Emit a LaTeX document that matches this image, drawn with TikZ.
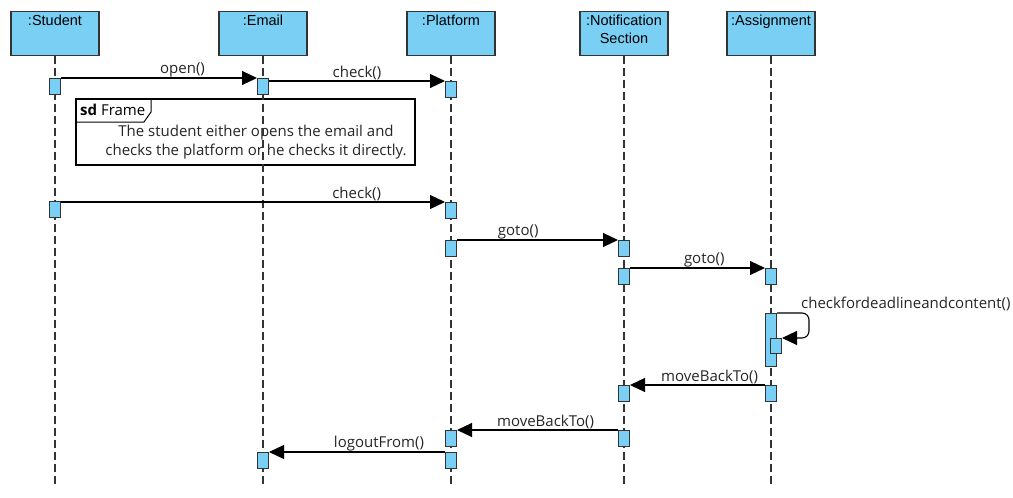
\documentclass[tikz,border=0pt]{standalone}
\usepackage{fontspec}
\setmainfont{Open Sans}
\newfontfamily\headfont{Liberation Sans}
\usepackage{tikz}
\usetikzlibrary{positioning, arrows.meta, calc}
\definecolor{umlblue}{RGB}{122,207,245}
\definecolor{umlline}{RGB}{51,51,51}
\tikzset{
  head/.style={draw=umlline, line width=1.4pt, fill=umlblue, minimum width=88pt, minimum height=44pt, anchor=north, inner sep=0pt},
  headlbl/.style={font=\headfont\fontsize{14.5}{18}\selectfont, align=center, anchor=north, inner sep=3.5pt},
  act/.style={draw=umlline, line width=1pt, fill=umlblue, minimum width=11pt, minimum height=16pt, anchor=north, inner sep=0pt},
  life/.style={umlline, line width=1.2pt, dash pattern=on 8pt off 4pt},
  msg/.style={line width=1.1pt, -{Triangle[length=15pt,width=14pt]}},
  lbl/.style={font=\fontsize{15}{17}\selectfont, above, inner sep=0.5pt, text=black!85},
}

\begin{document}
\begin{tikzpicture}[x=1pt, y=-1pt]
    \useasboundingbox[fill=white] (0,0) rectangle (1013,498);

    % Lifeline heads
    \node[head, label={[headlbl]north:{:Student}}] (stu) at (55,11) {};
    \node[head, label={[headlbl]north:{:Email}}] (eml) at (263,11) {};
    \node[head, label={[headlbl]north:{:Platform}}] (plt) at (451,11) {};
    \node[head, label={[headlbl]north:{:Notification\\Section}}] (ntf) at (624,11) {};
    \node[head, label={[headlbl]north:{:Assignment}}] (asg) at (771,11) {};

    % Frame
    \draw[line width=1.4pt] (76,99) rectangle (415,165);
    \draw[line width=1pt] (76,122) -- (144,122) -- (151,112) -- (151,99);
    \node[font=\fontsize{15}{17}\selectfont, anchor=west, inner sep=0pt] (frmtag) at (80,110) {\textbf{sd} Frame};
    \node[font=\fontsize{15}{19}\selectfont, align=center, text=black!85] (frmtxt) at (256,142)
        {The student either opens the email and\\checks the platform or he checks it directly.};

    % Lifelines
    \coordinate (bot) at (0,487);
    \foreach \h in {stu,eml,plt,ntf,asg}
        \draw[life] (\h.south) -- (\h.south |- bot);

    % Activations
    \node[act] (stu1) at (55,78) {};
    \node[act] (eml1) at (263,78) {};
    \node[act] (plt1) at (451,81) {};
    \node[act] (stu2) at (55,201) {};
    \node[act] (plt2) at (451,202) {};
    \node[act] (plt3) at (451,240) {};
    \node[act] (ntf1) at (624,240) {};
    \node[act] (ntf2) at (624,268) {};
    \node[act] (asg1) at (771,268) {};
    \node[act, minimum height=53pt] (asg2) at (771,313) {};
    \node[act, minimum height=15pt] (asg3) at (776,338) {};
    \node[act] (asg4) at (771,385) {};
    \node[act] (ntf3) at (624,385) {};
    \node[act] (ntf4) at (624,430) {};
    \node[act] (plt4) at (451,430) {};
    \node[act] (plt5) at (451,452) {};
    \node[act] (eml2) at (263,452) {};

    % Messages
    \draw[msg] (stu1.east |- eml1.north) -- (eml1.north west) node[lbl, pos=0.62] {open()};
    \draw[msg] (eml1.east |- plt1.north) -- (plt1.north west) node[lbl, pos=0.5] {check()};
    \draw[msg] (stu2.east |- plt2.north) -- (plt2.north west) node[lbl, pos=0.77] {check()};
    \draw[msg] (plt3.east |- ntf1.north) -- (ntf1.north west) node[lbl, pos=0.38] {goto()};
    \draw[msg] (ntf2.east |- asg1.north) -- (asg1.north west) node[lbl, pos=0.55] {goto()};
    \draw[msg, rounded corners=7pt] (asg2.north east) -- ([xshift=32pt]asg2.north east) |- (asg3.north east);
    \node[lbl, anchor=base west, inner sep=0pt] (selflbl) at ([xshift=24pt, yshift=5pt]asg2.north east)
        {checkfordeadlineandcontent()};
    \draw[msg] (asg4.north west) -- (ntf3.north east) node[lbl, pos=0.41] {moveBackTo()};
    \draw[msg] (ntf4.north west) -- (plt4.north east) node[lbl, pos=0.45] {moveBackTo()};
    \draw[msg] (plt5.north west) -- (eml2.north east) node[lbl, pos=0.375] {logoutFrom()};
\end{tikzpicture}
\end{document}
